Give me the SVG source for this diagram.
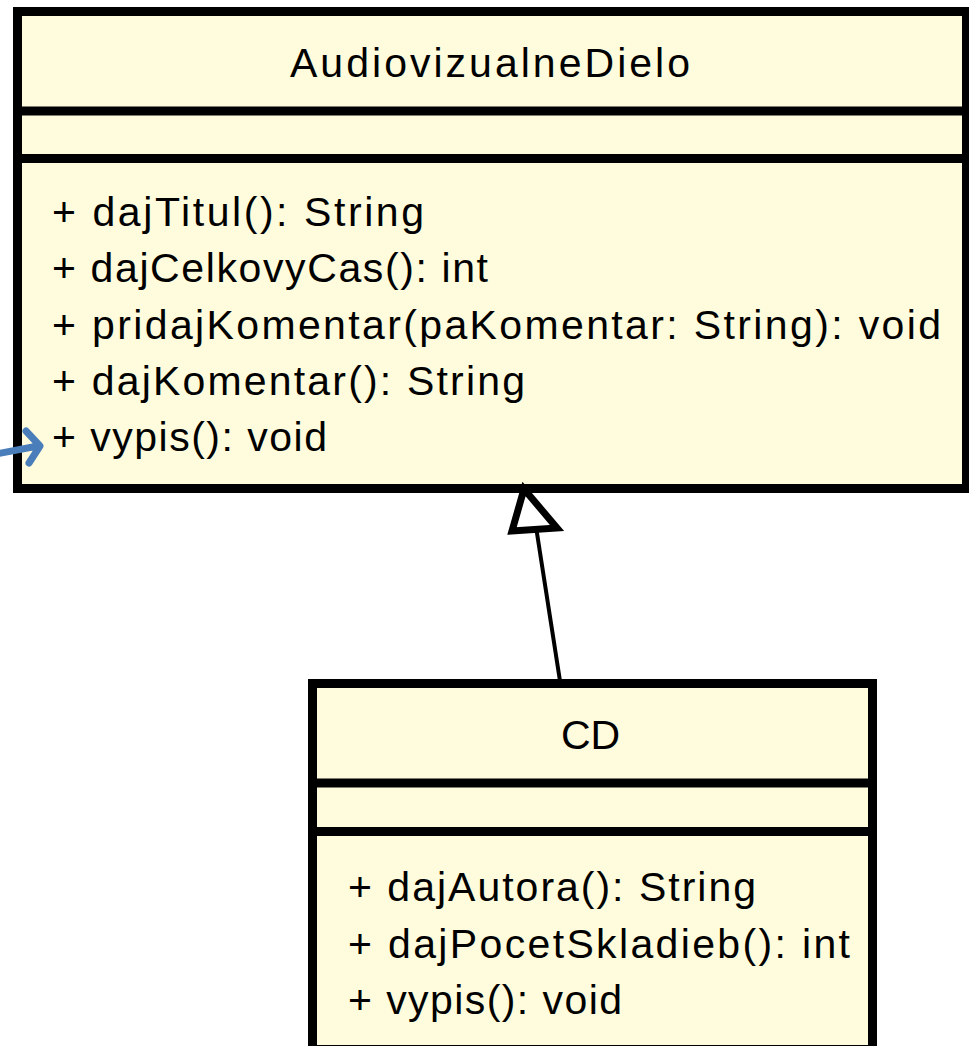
<svg xmlns="http://www.w3.org/2000/svg" width="969" height="1046" viewBox="0 0 969 1046">
<defs>
<style>
.box{fill:#FEFCDC;stroke:#000;stroke-width:9}
.div{stroke:#000;stroke-width:9}
.t{font-family:"Liberation Sans",Arial,sans-serif;font-size:41px;fill:#000}
.conn{stroke:#000;stroke-width:4;fill:none}
.gen{fill:#fff;stroke:#000;stroke-width:7;stroke-linejoin:miter}
.hint{stroke:#4a7ebb;stroke-width:7;fill:none;stroke-linecap:round;stroke-linejoin:round}
</style>
</defs>
<rect width="969" height="1046" fill="#fff"/>
<g id="AudiovizualneDielo">
<rect class="box" x="17.5" y="11.5" width="949" height="477"/>
<line class="div" x1="17.5" y1="111" x2="966.5" y2="111"/>
<line class="div" x1="17.5" y1="158.5" x2="966.5" y2="158.5"/>
<text class="t" x="290" y="77" textLength="400" lengthAdjust="spacing">AudiovizualneDielo</text>
<text class="t" x="52" y="226" textLength="372" lengthAdjust="spacing">+ dajTitul(): String</text>
<text class="t" x="52" y="282" textLength="436" lengthAdjust="spacing">+ dajCelkovyCas(): int</text>
<text class="t" x="52" y="339" textLength="889" lengthAdjust="spacing">+ pridajKomentar(paKomentar: String): void</text>
<text class="t" x="52" y="395" textLength="473" lengthAdjust="spacing">+ dajKomentar(): String</text>
<text class="t" x="52" y="451" textLength="275" lengthAdjust="spacing">+ vypis(): void</text>
</g>
<g id="CD">
<rect class="box" x="312.5" y="683.5" width="560" height="366"/>
<line class="div" x1="312.5" y1="783" x2="872.5" y2="783"/>
<line class="div" x1="312.5" y1="831.5" x2="872.5" y2="831.5"/>
<text class="t" x="561" y="749" textLength="59" lengthAdjust="spacing">CD</text>
<text class="t" x="348" y="901" textLength="408" lengthAdjust="spacing">+ dajAutora(): String</text>
<text class="t" x="348" y="958" textLength="502" lengthAdjust="spacing">+ dajPocetSkladieb(): int</text>
<text class="t" x="348" y="1014" textLength="274" lengthAdjust="spacing">+ vypis(): void</text>
</g>
<g id="connectors">
<line class="conn" x1="536.5" y1="530" x2="560" y2="681"/>
<polygon class="gen" points="524,489 512,531 557,528"/>
</g>
<g id="pointer">
<path class="hint" d="M -4 454 L 38 446 M 26 431 L 40 446 L 29 463"/>
</g>
</svg>
